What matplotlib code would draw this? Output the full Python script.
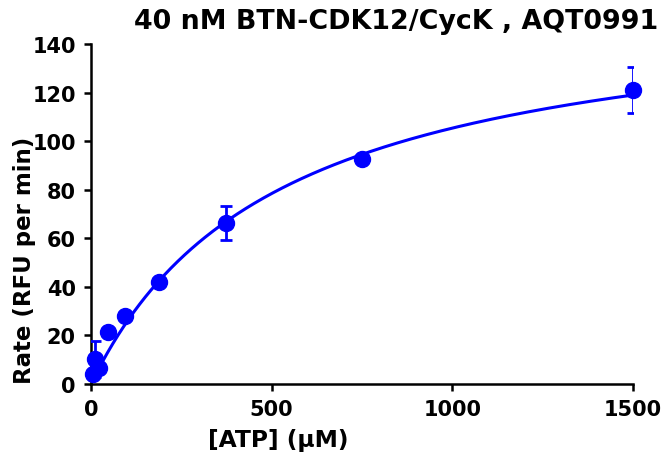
import numpy as np
import matplotlib.pyplot as plt

plt.rcParams['font.family'] = ['DejaVu Sans']
plt.rcParams['font.weight'] = 'bold'

# ATP series (uM), measured rate and error
atp = [5.86, 11.7, 23.4, 46.9, 93.8, 187.5, 375, 750, 1500]
rate = [4.0, 10.2, 6.8, 21.5, 28.0, 42.0, 66.5, 92.5, 121.0]
err = [1.0, 7.5, 1.0, 1.0, 1.0, 1.0, 7.0, 1.0, 9.5]

# Michaelis-Menten fit
vmax = 160.5
km = 523.0

blue = '#0000FF'

fig = plt.figure(figsize=(6.69, 4.6), dpi=100)
ax = fig.add_axes([0.136, 0.163, 0.81, 0.739])

s = np.linspace(0, 1500, 400)
ax.plot(s, vmax * s / (km + s), color=blue, lw=2.2, zorder=2)

# error bars (clipped at the axes edge) and markers (not clipped)
ax.errorbar(atp, rate, yerr=err, fmt='none', ecolor=blue, elinewidth=2,
            capsize=4, capthick=2, zorder=3)
ax.plot(atp, rate, 'o', color=blue, ms=11.5, clip_on=False, zorder=4)

ax.set_xlim(0, 1500)
ax.set_ylim(0, 140)
ax.set_xticks([0, 500, 1000, 1500])
ax.set_yticks(range(0, 141, 20))

for sp in ['top', 'right']:
    ax.spines[sp].set_visible(False)
for sp in ['left', 'bottom']:
    ax.spines[sp].set_linewidth(1.8)
ax.tick_params(direction='out', length=5, width=1.8, labelsize=15, pad=6)
for lab in ax.get_xticklabels() + ax.get_yticklabels():
    lab.set_fontweight('bold')

fig.text(0.416, 0.043, '[ATP] (\u00b5M)', fontsize=16.8, fontweight='bold',
         ha='center', va='center')
fig.text(0.037, 0.435, 'Rate (RFU per min)', fontsize=16.5, fontweight='bold',
         rotation=90, ha='center', va='center')
fig.text(0.984, 0.952, '40 nM BTN-CDK12/CycK , AQT0991', fontsize=19.4,
         fontweight='bold', ha='right', va='center')

fig.savefig('out.png', dpi=100)
